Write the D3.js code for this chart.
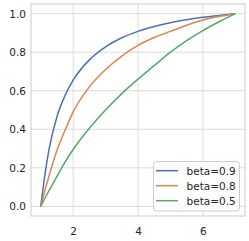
<!DOCTYPE html>
<html>
<head>
<meta charset="utf-8">
<script src="https://cdn.jsdelivr.net/npm/d3@7"></script>
<style>
  body { margin: 0; background: #fff; }
  text { font-family: "DejaVu Sans", sans-serif; fill: #262626; }
</style>
</head>
<body>
<div id="chart"></div>
<script>
var xs = [1, 1.1, 1.25, 1.5, 1.75, 2, 2.5, 3, 3.5, 4, 4.5, 5, 5.5, 6, 6.5, 7];
var beta09 = [0, 0.13, 0.29, 0.465, 0.575, 0.655, 0.76, 0.828, 0.875, 0.908, 0.933, 0.953, 0.968, 0.981, 0.991, 1];
var beta08 = [0, 0.065, 0.155, 0.29, 0.395, 0.49, 0.62, 0.71, 0.78, 0.835, 0.876, 0.908, 0.94, 0.967, 0.985, 1];
var beta05 = [0, 0.033, 0.08, 0.155, 0.23, 0.295, 0.405, 0.5, 0.585, 0.66, 0.73, 0.8, 0.86, 0.912, 0.958, 1];
var seriesNames = ["beta=0.9", "beta=0.8", "beta=0.5"];
var xTicks = [2, 4, 6];
var yTicks = [0, 0.2, 0.4, 0.6, 0.8, 1.0];

var props = {
  width : 249,
  height : 241,
  left : 31,
  right : 245,
  top : 4,
  bottom : 216
};
var colors = ["#4c72b0", "#dd8452", "#55a868"];

var svg = d3.select("#chart").append("svg")
  .attr("width", props.width)
  .attr("height", props.height);

var scales = {
  x : d3.scaleLinear().domain([0.7, 7.3]).range([props.left, props.right]),
  y : d3.scaleLinear().domain([-0.05, 1.05]).range([props.bottom, props.top])
};

// grid
svg.append("g").selectAll("line").data(xTicks).enter().append("line")
  .attr("x1", function(d){ return scales.x(d); })
  .attr("x2", function(d){ return scales.x(d); })
  .attr("y1", props.top).attr("y2", props.bottom)
  .style("stroke", "#dcdcdc").style("stroke-width", 1);
svg.append("g").selectAll("line").data(yTicks).enter().append("line")
  .attr("y1", function(d){ return scales.y(d); })
  .attr("y2", function(d){ return scales.y(d); })
  .attr("x1", props.left).attr("x2", props.right)
  .style("stroke", "#dcdcdc").style("stroke-width", 1);

// frame
svg.append("rect")
  .attr("x", props.left).attr("y", props.top)
  .attr("width", props.right - props.left)
  .attr("height", props.bottom - props.top)
  .style("fill", "none").style("stroke", "#cccccc").style("stroke-width", 1);

// tick labels
var xAxis = svg.append("g")
  .attr("transform", "translate(0," + props.bottom + ")")
  .call(d3.axisBottom(scales.x).tickValues(xTicks).tickSize(0).tickPadding(12).tickFormat(d3.format("d")));
var yAxis = svg.append("g")
  .attr("transform", "translate(" + props.left + ",0)")
  .call(d3.axisLeft(scales.y).tickValues(yTicks).tickSize(0).tickPadding(5).tickFormat(d3.format(".1f")));
[xAxis, yAxis].forEach(function(a){
  a.select(".domain").remove();
  a.selectAll("text").style("font-size", "10.5px").style("fill", "#262626")
    .style("font-family", "DejaVu Sans, sans-serif");
});

var line = d3.line()
  .curve(d3.curveMonotoneX)
  .x(function(d){ return scales.x(d.x); })
  .y(function(d){ return scales.y(d.y); });

var allSeries = [beta09, beta08, beta05].map(function(vals, i){
  return { name : seriesNames[i], values : xs.map(function(x, j){ return {x : x, y : vals[j]}; }) };
});

svg.append("g").selectAll("path").data(allSeries).enter().append("path")
  .attr("d", function(d){ return line(d.values); })
  .style("fill", "none")
  .style("stroke", function(d, i){ return colors[i]; })
  .style("stroke-width", 1.5);

// legend
var lg = svg.append("g");
lg.append("rect")
  .attr("x", 153.5).attr("y", 161.5).attr("width", 86).attr("height", 49.5)
  .attr("rx", 3)
  .style("fill", "#fff").style("fill-opacity", 0.8)
  .style("stroke", "#cccccc").style("stroke-width", 1);
var items = lg.selectAll(".item").data(seriesNames).enter().append("g")
  .attr("class", "item")
  .attr("transform", function(d, i){ return "translate(0," + (170.7 + i * 15) + ")"; });
items.append("line")
  .attr("x1", 156).attr("x2", 178).attr("y1", 0).attr("y2", 0)
  .style("stroke", function(d, i){ return colors[i]; })
  .style("stroke-width", 1.5);
items.append("text")
  .attr("x", 186.5).attr("y", 3.8)
  .style("font-size", "10.5px")
  .text(function(d){ return d; });
</script>
</body>
</html>
